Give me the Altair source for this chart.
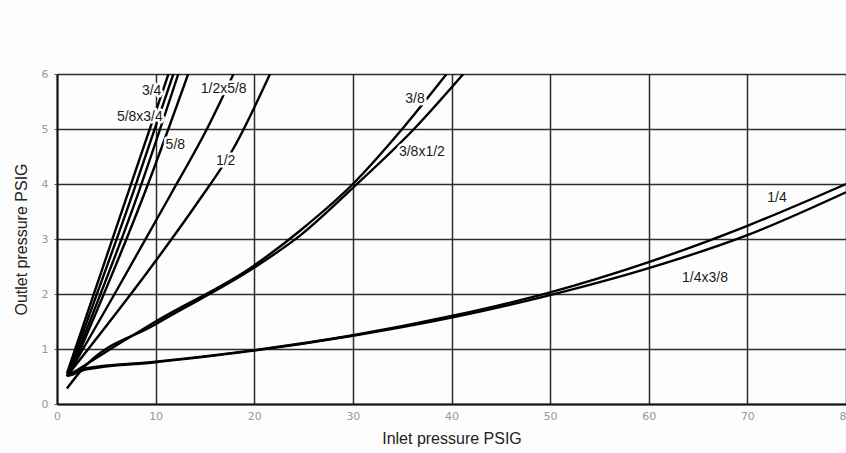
import altair as alt
import pandas as pd

# ---- data ----
x_ticks = [0, 10, 20, 30, 40, 50, 60, 70, 80]
y_ticks = [0, 1, 2, 3, 4, 5, 6]

c34_x = [1.0, 7.3, 11.3]
c34_y = [0.55, 3.89, 6.0]

c58x34a_x = [1.0, 7.8, 11.8]
c58x34a_y = [0.5, 3.89, 6.0]

c58x34b_x = [1.1, 8.35, 12.3]
c58x34b_y = [0.5, 3.89, 6.0]

c58_x = [1.2, 9.0, 13.3]
c58_y = [0.5, 3.89, 6.0]

c12x58_x = [1.2, 6.0, 11.5, 15.2, 17.9]
c12x58_y = [0.55, 2.05, 3.8, 5.0, 6.0]

c12_x = [1.2, 10.0, 14.2, 17.9, 21.6]
c12_y = [0.55, 2.6, 3.65, 4.65, 6.0]

c38_x = [1.2, 2.5, 10.0, 20.0, 24.7, 30.0, 35.0, 39.5]
c38_y = [0.52, 0.67, 1.5, 2.52, 3.16, 4.0, 5.0, 6.0]

c38x12_x = [1.0, 2.5, 10.0, 20.0, 24.7, 30.0, 36.2, 41.2]
c38x12_y = [0.28, 0.62, 1.45, 2.48, 3.07, 3.93, 5.0, 6.0]

c14_x = [1.3, 3.0, 10.0, 20.0, 30.0, 40.0, 50.0, 60.0, 70.0, 80.0]
c14_y = [0.55, 0.65, 0.77, 0.98, 1.25, 1.6, 2.03, 2.58, 3.24, 4.0]

c14x38_x = [1.4, 3.0, 10.0, 20.0, 30.0, 40.0, 50.0, 60.0, 70.0, 80.0]
c14x38_y = [0.52, 0.63, 0.76, 0.97, 1.24, 1.57, 1.98, 2.47, 3.07, 3.85]

label_text = ["3/4", "5/8x3/4", "5/8", "1/2x5/8", "1/2", "3/8", "3/8x1/2", "1/4", "1/4x3/8"]
label_x = [9.6, 8.4, 12.0, 16.9, 17.1, 36.3, 37.0, 73.0, 65.7]
label_y = [5.69, 5.22, 4.71, 5.73, 4.42, 5.55, 4.58, 3.75, 2.29]

curves = [
    ("3/4", c34_x, c34_y),
    ("5/8x3/4 a", c58x34a_x, c58x34a_y),
    ("5/8x3/4 b", c58x34b_x, c58x34b_y),
    ("5/8", c58_x, c58_y),
    ("1/2x5/8", c12x58_x, c12x58_y),
    ("1/2", c12_x, c12_y),
    ("3/8", c38_x, c38_y),
    ("3/8x1/2", c38x12_x, c38x12_y),
    ("1/4", c14_x, c14_y),
    ("1/4x3/8", c14x38_x, c14x38_y),
]

rows = []
for name, xs, ys in curves:
    for xv, yv in zip(xs, ys):
        rows.append({"series": name, "inlet": xv, "outlet": yv})
df = pd.DataFrame(rows)

lab = pd.DataFrame({"text": label_text, "inlet": label_x, "outlet": label_y})

x_scale = alt.Scale(domain=[0, 80], nice=False, zero=False)
y_scale = alt.Scale(domain=[0, 6], nice=False)

x_enc = alt.X("inlet:Q", scale=x_scale, title="Inlet pressure PSIG",
              axis=alt.Axis(values=x_ticks, grid=True, labelFlush=False, ticks=False,
                            format="d", labelPadding=6, titlePadding=9))
y_enc = alt.Y("outlet:Q", scale=y_scale, title="Outlet pressure PSIG",
              axis=alt.Axis(values=y_ticks, grid=True, ticks=True, tickSize=3,
                            format="d", labelPadding=6, titlePadding=12))

lines = alt.Chart(df).mark_line(color="black", strokeWidth=2.4, interpolate="monotone",
                                clip=True).encode(
    x=x_enc, y=y_enc, detail="series:N"
)

halo = alt.Chart(lab).mark_text(fontSize=14, font="Liberation Sans", color="white",
                                stroke="white", strokeWidth=5, strokeJoin="round").encode(
    x="inlet:Q", y="outlet:Q", text="text:N"
)
texts = alt.Chart(lab).mark_text(fontSize=14, font="Liberation Sans", color="#1a1a1a").encode(
    x="inlet:Q", y="outlet:Q", text="text:N"
)

chart = alt.layer(lines, halo, texts).properties(
    width=789, height=330,
    autosize=alt.AutoSizeParams(type="none"),
    padding={"left": 57, "top": 74, "right": 0, "bottom": 49},
    background="#fdfdfd",
).configure_view(stroke=None).configure_axis(
    gridColor="#2e2e2e", gridWidth=1.5, gridOpacity=1,
    domainColor="#111111", domainWidth=2,
    tickColor="#555555",
    labelColor="#999999", labelFont="DejaVu Sans", labelFontSize=11,
    titleColor="#222222", titleFont="Liberation Sans", titleFontSize=16,
    titleFontWeight="normal",
)

chart.save("out.html", embed_options={"renderer": "svg", "actions": False})
